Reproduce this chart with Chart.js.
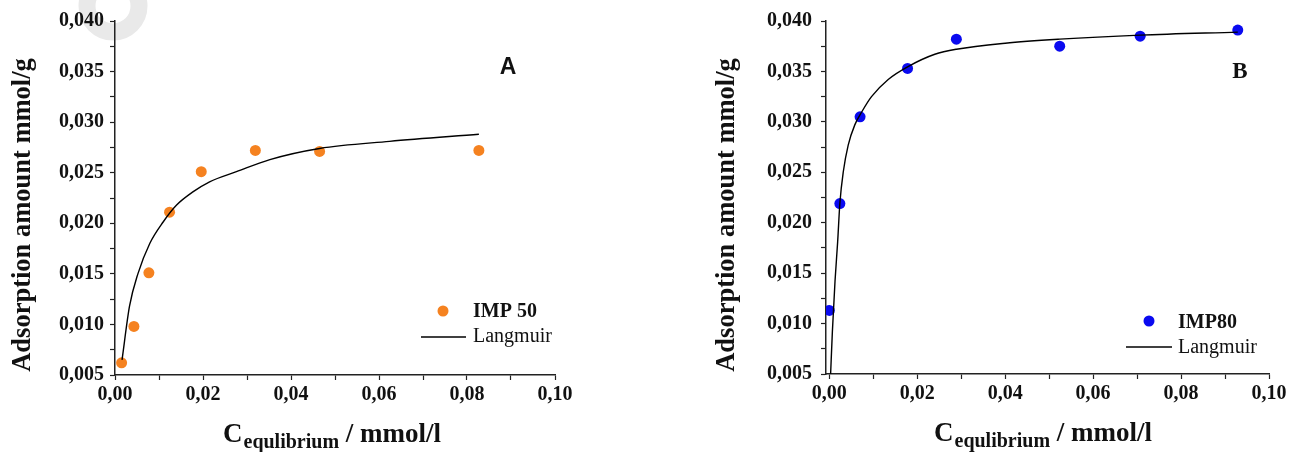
<!DOCTYPE html>
<html>
<head>
<meta charset="utf-8">
<script src="https://cdn.jsdelivr.net/npm/chart.js@4.4.1/dist/chart.umd.min.js"></script>
<style>
  html, body { margin: 0; padding: 0; background: #fff; }
  body { width: 1293px; height: 452px; position: relative; overflow: hidden; }
  .painel { position: absolute; top: 0; height: 452px; }
  #boxA { left: 0; width: 646px; }
  #boxB { left: 646px; width: 647px; }
</style>
</head>
<body>
<div class="painel" id="boxA"><canvas id="chartA"></canvas></div>
<div class="painel" id="boxB"><canvas id="chartB"></canvas></div>
<script>
// Painel A - IMP 50 (pontos medidos)
const cA = [0.0015, 0.0043, 0.0077, 0.0124, 0.0196, 0.0319, 0.0465, 0.0827];
const qA = [0.0062, 0.0098, 0.0151, 0.0211, 0.0251, 0.0272, 0.0271, 0.0272];
// curva Langmuir do painel A
const fitCA = [0.0016, 0.0033, 0.0052, 0.0079, 0.0109, 0.0140, 0.0177, 0.0215, 0.0276, 0.0352, 0.0465, 0.0624, 0.0827];
const fitQA = [0.0065, 0.0118, 0.0150, 0.0180, 0.0201, 0.0218, 0.0231, 0.0241, 0.0251, 0.0263, 0.0274, 0.0281, 0.0288];

// Painel B - IMP80
const cB = [0.0000, 0.0024, 0.0070, 0.0178, 0.0289, 0.0524, 0.0707, 0.0929];
const qB = [0.0113, 0.0219, 0.0305, 0.0353, 0.0382, 0.0375, 0.0385, 0.0391];
const fitCB = [0.0003, 0.0007, 0.0013, 0.0019, 0.0024, 0.0032, 0.0043, 0.0058, 0.0074, 0.0096, 0.0134, 0.0180, 0.0240, 0.0289, 0.0400, 0.0524, 0.0707, 0.0929];
const fitQB = [0.0050, 0.0092, 0.0142, 0.0181, 0.0219, 0.0251, 0.0277, 0.0297, 0.0310, 0.0325, 0.0342, 0.0355, 0.0367, 0.0372, 0.0378, 0.0382, 0.0386, 0.0389];

// Eixos (iguais nos dois paineis)
const xTicks = [0, 0.01, 0.02, 0.03, 0.04, 0.05, 0.06, 0.07, 0.08, 0.09, 0.10];
const xTickLabels = ['0,00', '', '0,02', '', '0,04', '', '0,06', '', '0,08', '', '0,10'];
const yTicks = [0.005, 0.0075, 0.010, 0.0125, 0.015, 0.0175, 0.020, 0.0225, 0.025, 0.0275, 0.030, 0.0325, 0.035, 0.0375, 0.040];
const yTickLabels = ['0,005', '', '0,010', '', '0,015', '', '0,020', '', '0,025', '', '0,030', '', '0,035', '', '0,040'];

const tituloY = 'Adsorption amount mmol/g';
const corTexto = '#111';
const serif = '"Liberation Serif", "Times New Roman", serif';

Chart.defaults.animation = false;

function pares(xs, ys) { return xs.map((x, i) => ({ x, y: ys[i] })); }

// Legenda, titulos e letra do painel desenhados a mao
function decoracao(p) {
  return {
    id: 'decoracao' + p.letra,
    beforeDraw(chart) {
      if (!p.marca) return;
      const ctx = chart.ctx;
      ctx.save();
      ctx.strokeStyle = '#e9e9e9';
      ctx.lineWidth = 17;
      ctx.beginPath(); ctx.arc(p.marca.x, p.marca.y, 26, 0, Math.PI * 2); ctx.stroke();
      ctx.restore();
    },
    afterDraw(chart) {
      const ctx = chart.ctx;
      const pts = chart.data.datasets[0], lin = chart.data.datasets[1];
      ctx.save();
      // legenda
      ctx.fillStyle = pts.pointBackgroundColor;
      ctx.beginPath(); ctx.arc(p.leg.dotX, p.leg.dotY, 5.5, 0, Math.PI * 2); ctx.fill();
      ctx.strokeStyle = lin.borderColor; ctx.lineWidth = 1.4;
      ctx.beginPath(); ctx.moveTo(p.leg.l0, p.leg.lY); ctx.lineTo(p.leg.l1, p.leg.lY); ctx.stroke();
      ctx.fillStyle = corTexto; ctx.textAlign = 'left'; ctx.textBaseline = 'alphabetic';
      ctx.font = 'bold 20px ' + serif; ctx.fillText(pts.label, p.leg.tx, p.leg.b1);
      ctx.font = '20px ' + serif; ctx.fillText(lin.label, p.leg.tx, p.leg.b2);
      // letra do painel
      ctx.textAlign = 'center'; ctx.textBaseline = 'middle';
      ctx.font = p.fonteLetra; ctx.fillText(p.letra, p.letraX, p.letraY);
      // titulo Y (rodado)
      ctx.save();
      ctx.translate(p.tyX, p.tyY); ctx.rotate(-Math.PI / 2);
      ctx.textAlign = 'center'; ctx.textBaseline = 'alphabetic';
      ctx.font = 'bold 26.5px ' + serif; ctx.fillText(tituloY, 0, 0);
      ctx.restore();
      // titulo X com indice
      ctx.textAlign = 'left'; ctx.textBaseline = 'alphabetic';
      let x = p.txX;
      ctx.font = 'bold 27px ' + serif; ctx.fillText('C', x, p.txB); x += ctx.measureText('C').width + 1;
      ctx.font = 'bold 20px ' + serif; ctx.fillText('equlibrium', x, p.txB + 6); x += ctx.measureText('equlibrium').width;
      ctx.font = 'bold 27px ' + serif; ctx.fillText(' / mmol/l', x, p.txB);
      ctx.restore();
    }
  };
}

function grafico(id, p) {
  return new Chart(document.getElementById(id), {
    type: 'scatter',
    data: {
      datasets: [
        { label: p.nome, data: pares(p.cx, p.qy), pointRadius: 5.5, pointHoverRadius: 5.5,
          pointBackgroundColor: p.cor, pointBorderWidth: 0, showLine: false, order: 1 },
        { label: 'Langmuir', data: pares(p.fx, p.fy), showLine: true, pointRadius: 0,
          borderColor: '#000', borderWidth: 1.4, cubicInterpolationMode: 'monotone', order: 0 }
      ]
    },
    options: {
      responsive: true, maintainAspectRatio: false,
      layout: { padding: { top: 21, right: p.padDir, left: 0, bottom: 0 } },
      plugins: { legend: { display: false }, tooltip: { enabled: false } },
      scales: {
        x: {
          type: 'linear', min: p.xMin, max: 0.10,
          afterBuildTicks: s => { s.ticks = xTicks.map(v => ({ value: v })); },
          afterFit: s => { s.height = p.altX; },
          border: { color: '#222', width: 1.5 },
          grid: { drawOnChartArea: false, tickLength: 5, tickColor: '#222', tickWidth: 1.2 },
          ticks: { autoSkip: false, maxRotation: 0, padding: 3, color: corTexto,
            font: { family: serif, size: 20, weight: 'bold' },
            callback: (v, i) => xTickLabels[i] }
        },
        y: {
          min: 0.005, max: 0.040,
          afterBuildTicks: s => { s.ticks = yTicks.map(v => ({ value: v })); },
          afterFit: s => { s.width = p.largY; },
          border: { color: '#222', width: 1.5 },
          grid: { drawOnChartArea: false, tickLength: 5, tickColor: '#222', tickWidth: 1.2 },
          ticks: { autoSkip: false, padding: p.padTickY, color: corTexto,
            font: { family: serif, size: 20, weight: 'bold' },
            callback: (v, i) => yTickLabels[i] }
        }
      }
    },
    plugins: [decoracao(p)]
  });
}

grafico('chartA', {
  letra: 'A', nome: 'IMP 50', cor: '#f58220', cx: cA, qy: qA, fx: fitCA, fy: fitQA,
  xMin: 0, padDir: 91, altX: 77, largY: 115, padTickY: 6,
  marca: { x: 113, y: 6 },
  leg: { dotX: 443, dotY: 311, l0: 421, l1: 466, lY: 337, tx: 473, b1: 317, b2: 342 },
  fonteLetra: 'bold 23px "Liberation Sans", Arial, sans-serif', letraX: 508, letraY: 68,
  tyX: 30, tyY: 215, txX: 223, txB: 442
});

grafico('chartB', {
  letra: 'B', nome: 'IMP80', cor: '#0a0af0', cx: cB, qy: qB, fx: fitCB, fy: fitQB,
  xMin: -0.00075, padDir: 24, altX: 78, largY: 180, padTickY: 9,
  marca: null,
  leg: { dotX: 503, dotY: 321, l0: 480, l1: 526, lY: 347, tx: 532, b1: 328, b2: 353 },
  fonteLetra: 'bold 23px ' + serif, letraX: 594, letraY: 72,
  tyX: 88, tyY: 215, txX: 288, txB: 441
});
</script>
</body>
</html>
